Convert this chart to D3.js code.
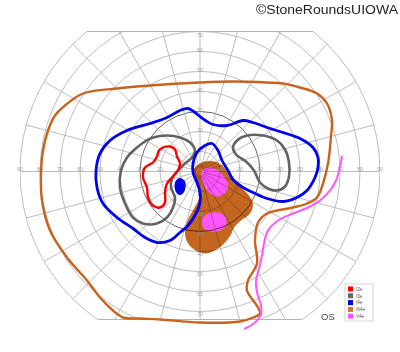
<html>
<head>
<style>
  body { margin: 0; padding: 0; background: white; }
  svg { display: block; }
</style>
<script src="https://cdn.jsdelivr.net/npm/d3@7"></script>
</head>
<body>
<svg width="400" height="352"></svg>
<script>
// isopters, in degrees of visual field [horizontal, vertical]
const isoIII4e = [[0,44.5],[16.5,45],[33.5,44.5],[41.5,44],[50,42],[58.5,39],[63.5,34],[66,25.5],[65.5,18],[65,12],
  [64,4],[61.5,-6],[58.5,-13],[53.5,-16],[46.5,-18],[33.5,-21],[29,-25.5],[27.5,-34.5],[28.5,-46],[24,-54.5],
  [23.5,-59.5],[29,-68],[30,-71],[26.5,-73],[20,-75],[0,-75.5],[-20,-74],[-30,-73.5],[-38.5,-73],[-43.5,-69.5],
  [-50,-63],[-56.5,-54.5],[-66.5,-43],[-75,-29.5],[-79,-14.5],[-79.5,0],[-78.5,10.5],[-76,20.5],[-72.5,28],
  [-67.5,33],[-58.5,39],[-41.5,41.5],[-25,43]];

const isoI4e = [[-45,15.5],[-36.5,20.5],[-25,24],[-16.5,27],[-10,30.5],[-6,31.5],[-2.5,29.5],[0,27.5],[3.5,25],
  [6.5,23.5],[13.5,23],[21.5,25.5],[26.5,24.5],[33.5,22],[41.5,19.5],[50,16.5],[56.5,12],[59,7],[59,2],[57.5,-3],
  [53.5,-9.5],[48.5,-13],[41.5,-15],[33.5,-13.5],[26.5,-10.5],[21.5,-8],[16.5,-4],[14,0.5],[11,5.5],[9,10.5],
  [6,14],[2.5,13],[-1.5,9.5],[-3.5,4],[-3.5,-0.5],[-1.5,-5.5],[0,-10.5],[0,-15.5],[-2,-21],[-6,-27],[-10,-30.5],
  [-15,-34.5],[-21.5,-35.5],[-27.5,-33],[-33.5,-28.5],[-41.5,-23],[-48.5,-16],[-51.5,-8],[-52,0.5],[-50,9]];

const isoI3eLeft = [[-23.5,17],[-16.5,18],[-10,17],[-5,14.5],[-2.5,10.5],[-4,7],[-7.5,4],[-11,0.5],[-14,-3.5],
  [-14.5,-8],[-12.5,-13],[-13.5,-18],[-16.5,-23],[-21.5,-26],[-28.5,-26],[-33.5,-23],[-37.5,-16],[-40,-8],
  [-39.5,0.5],[-36.5,7],[-31.5,12],[-27.5,15]];

const isoI3eRight = [[18.5,15.5],[23.5,18],[31.5,18],[38.5,15.5],[42.5,11],[44.5,4.5],[44.5,-2.5],[42.5,-7.5],
  [38.5,-9.5],[34,-8.5],[30,-5.5],[27,0.5],[23,5],[18,8.5],[16.5,12]];

const isoI2e = [[-18.5,12],[-15,12.5],[-12.5,11],[-11.5,7.5],[-10,4],[-11,0.5],[-14,-3],[-16.5,-6],[-17.5,-10.5],
  [-17.5,-15.5],[-20,-18],[-23.5,-17],[-26,-13],[-26.5,-8],[-28.5,-3],[-27.5,2],[-23.5,4.5],[-21.5,7.5],[-20.5,10.5]];

const isoV4eLine = [[71,7.5],[70,2.5],[68,-4.5],[65,-9.5],[60,-14.5],[54,-18],[46.5,-21],[39,-24.5],[34,-29.5],
  [32,-36],[31,-42],[29.5,-48.5],[28,-54.5],[28.5,-60.5],[30.5,-67],[30.5,-71.5],[27.5,-75.5],[22.5,-78.5]];

// filled areas
const seenIII4e = [[-2,2.5],[2.5,5],[7.5,5],[11,3],[15,-2],[20,-7.5],[24.5,-12],[26.5,-16.5],[25,-21],[20.5,-24.5],
  [17,-28],[15.5,-31.5],[13,-35],[9,-38.5],[3,-41],[-3,-39],[-6.5,-35],[-7.5,-30],[-6,-24],[-3,-18.5],
  [-0.5,-13.5],[-0.5,-8.5],[-3,-3.5],[-3.5,0]];
const seenV4eUpper = [[1.5,1],[5,2],[9.5,0],[13,-4],[14,-8],[11.5,-11.5],[8,-12.5],[4,-10],[1.5,-6],[0.5,-2]];
const seenV4eLower = [[2,-22.5],[6,-20.5],[10.5,-21],[13,-23.5],[13,-27],[10,-29.5],[5.5,-30],[2,-28.5],[1,-25.5]];
const seenI4eSpot = [[-10,-3.3],[-7.6,-4.8],[-7.2,-7.8],[-8.3,-10.8],[-10,-11.8],[-11.8,-10.6],[-12.7,-7.6],[-12.1,-4.6]];

const ringDegrees = [10, 20, 30, 40, 50, 60, 70, 80, 90];
const meridianDegrees = d3.range(0, 360, 15);
const hLabels = [10, 20, 30, 40, 50, 60, 70, 80, 90];
const vLabelsUp = [10, 20, 30, 40, 50, 60, 70];
const vLabelsDown = [10, 20, 30, 40, 50, 60, 70];
const topLimit = 70, bottomLimit = -74;

const legendLabels = ["I2e", "I3e", "I4e", "III4e", "V4e"];
const legendColors = ["#ff0000", "#666666", "#0000ee", "#cc7a30", "#ff55ff"];

const svg = d3.select("svg");
const cx = 200, cy = 171.5;
const x = d3.scaleLinear().domain([-90, 90]).range([cx - 180, cx + 180]);
const y = d3.scaleLinear().domain([-90, 90]).range([cy + 180, cy - 180]);
const r = d3.scaleLinear().domain([0, 90]).range([0, 180]);

const closed = d3.line().x(d => x(d[0])).y(d => y(d[1])).curve(d3.curveCatmullRomClosed.alpha(0.5));
const open = d3.line().x(d => x(d[0])).y(d => y(d[1])).curve(d3.curveCatmullRom.alpha(0.5));

// clip = outer circle cut by top and bottom chords
const defs = svg.append("defs");
const clip = defs.append("clipPath").attr("id", "field");
clip.append("rect").attr("x", x(-90)).attr("y", y(topLimit))
    .attr("width", x(90) - x(-90)).attr("height", y(bottomLimit) - y(topLimit));

// filled areas first, grid multiplied on top
svg.append("path").attr("d", closed(seenIII4e)).attr("fill", "#c4661f");
svg.append("path").attr("d", closed(seenV4eUpper)).attr("fill", "#ff55ff");
svg.append("path").attr("d", closed(seenV4eLower)).attr("fill", "#ff55ff");

const grid = svg.append("g").attr("clip-path", "url(#field)").style("mix-blend-mode", "multiply");

grid.selectAll(".ring").data(ringDegrees).enter().append("circle")
    .attr("cx", x(0)).attr("cy", y(0)).attr("r", d => r(d))
    .attr("fill", "none")
    .attr("stroke", d => d == 30 ? "#555" : "#b4b4b4")
    .attr("stroke-width", d => d == 30 ? 0.9 : 0.9);

grid.selectAll(".meridian").data(meridianDegrees).enter().append("line")
    .attr("x1", d => x(2 * Math.cos(d * Math.PI / 180)))
    .attr("y1", d => y(2 * Math.sin(d * Math.PI / 180)))
    .attr("x2", d => x(90 * Math.cos(d * Math.PI / 180)))
    .attr("y2", d => y(90 * Math.sin(d * Math.PI / 180)))
    .attr("stroke", "#b4b4b4").attr("stroke-width", 0.9);

// chords closing the field
const chordTop = Math.sqrt(90 * 90 - topLimit * topLimit);
const chordBottom = Math.sqrt(90 * 90 - bottomLimit * bottomLimit);
svg.append("line").attr("x1", x(-chordTop)).attr("x2", x(chordTop))
    .attr("y1", y(topLimit)).attr("y2", y(topLimit))
    .attr("stroke", "#b4b4b4").attr("stroke-width", 1.2);
svg.append("line").attr("x1", x(-chordBottom)).attr("x2", x(chordBottom))
    .attr("y1", y(bottomLimit)).attr("y2", y(bottomLimit))
    .attr("stroke", "#b4b4b4").attr("stroke-width", 1.2);

// axis numbers
const lab = svg.append("g").attr("font-family", "Liberation Sans, Arial, sans-serif")
    .attr("font-size", 5).attr("fill", "#9a9a9a").attr("text-anchor", "middle");
hLabels.forEach(d => {
  lab.append("text").attr("x", x(-d)).attr("y", y(0) - 0.5).text(d);
  lab.append("text").attr("x", x(d)).attr("y", y(0) - 0.5).text(d);
});
vLabelsUp.forEach(d => {
  lab.append("text").attr("x", x(0)).attr("y", y(d) + (d == 70 ? 5 : 0)).text(d);
});
vLabelsDown.forEach(d => {
  lab.append("text").attr("x", x(0)).attr("y", y(-d) + 4.5).text(d);
});

// isopter lines
const lines = svg.append("g").attr("fill", "none").attr("stroke-linejoin", "round").attr("stroke-linecap", "round");
lines.append("path").attr("d", closed(isoIII4e)).attr("stroke", "#c8621c").attr("stroke-width", 2.4);
lines.append("path").attr("d", closed(isoI3eLeft)).attr("stroke", "#636363").attr("stroke-width", 2.6);
lines.append("path").attr("d", closed(isoI3eRight)).attr("stroke", "#636363").attr("stroke-width", 2.6);
lines.append("path").attr("d", closed(isoI2e)).attr("stroke", "#ff0000").attr("stroke-width", 2.4);
lines.append("path").attr("d", closed(isoI4e)).attr("stroke", "#0000f0").attr("stroke-width", 2.8);
lines.append("path").attr("d", open(isoV4eLine)).attr("stroke", "#ff55ff").attr("stroke-width", 2);
svg.append("path").attr("d", closed(seenI4eSpot)).attr("fill", "#0000f0");

// legend
const legend = svg.append("g").attr("transform", "translate(345,284)");
legend.append("rect").attr("width", 28).attr("height", 37)
    .attr("fill", "white").attr("stroke", "#c8c8c8").attr("stroke-width", 0.8);
legendLabels.forEach((d, i) => {
  legend.append("rect").attr("x", 3).attr("y", 2.5 + i * 6.8).attr("width", 5).attr("height", 5)
      .attr("fill", legendColors[i]);
  legend.append("text").attr("x", 11).attr("y", 6.8 + i * 6.8)
      .attr("font-family", "Liberation Sans, Arial, sans-serif").attr("font-size", 4.6)
      .attr("fill", "#555").text(d);
});

svg.append("text").attr("x", 321).attr("y", 320)
    .attr("font-family", "Liberation Sans, Arial, sans-serif").attr("font-size", 9.5)
    .attr("fill", "#444").text("OS");

svg.append("text").attr("x", 256).attr("y", 13.5)
    .attr("font-family", "Liberation Sans, Arial, sans-serif").attr("font-size", 13.5)
    .attr("textLength", 142).attr("lengthAdjust", "spacingAndGlyphs")
    .attr("fill", "#222").attr("stroke", "white").attr("stroke-width", 0.4).attr("paint-order", "stroke")
    .text("©StoneRoundsUIOWA");
</script>
</body>
</html>
